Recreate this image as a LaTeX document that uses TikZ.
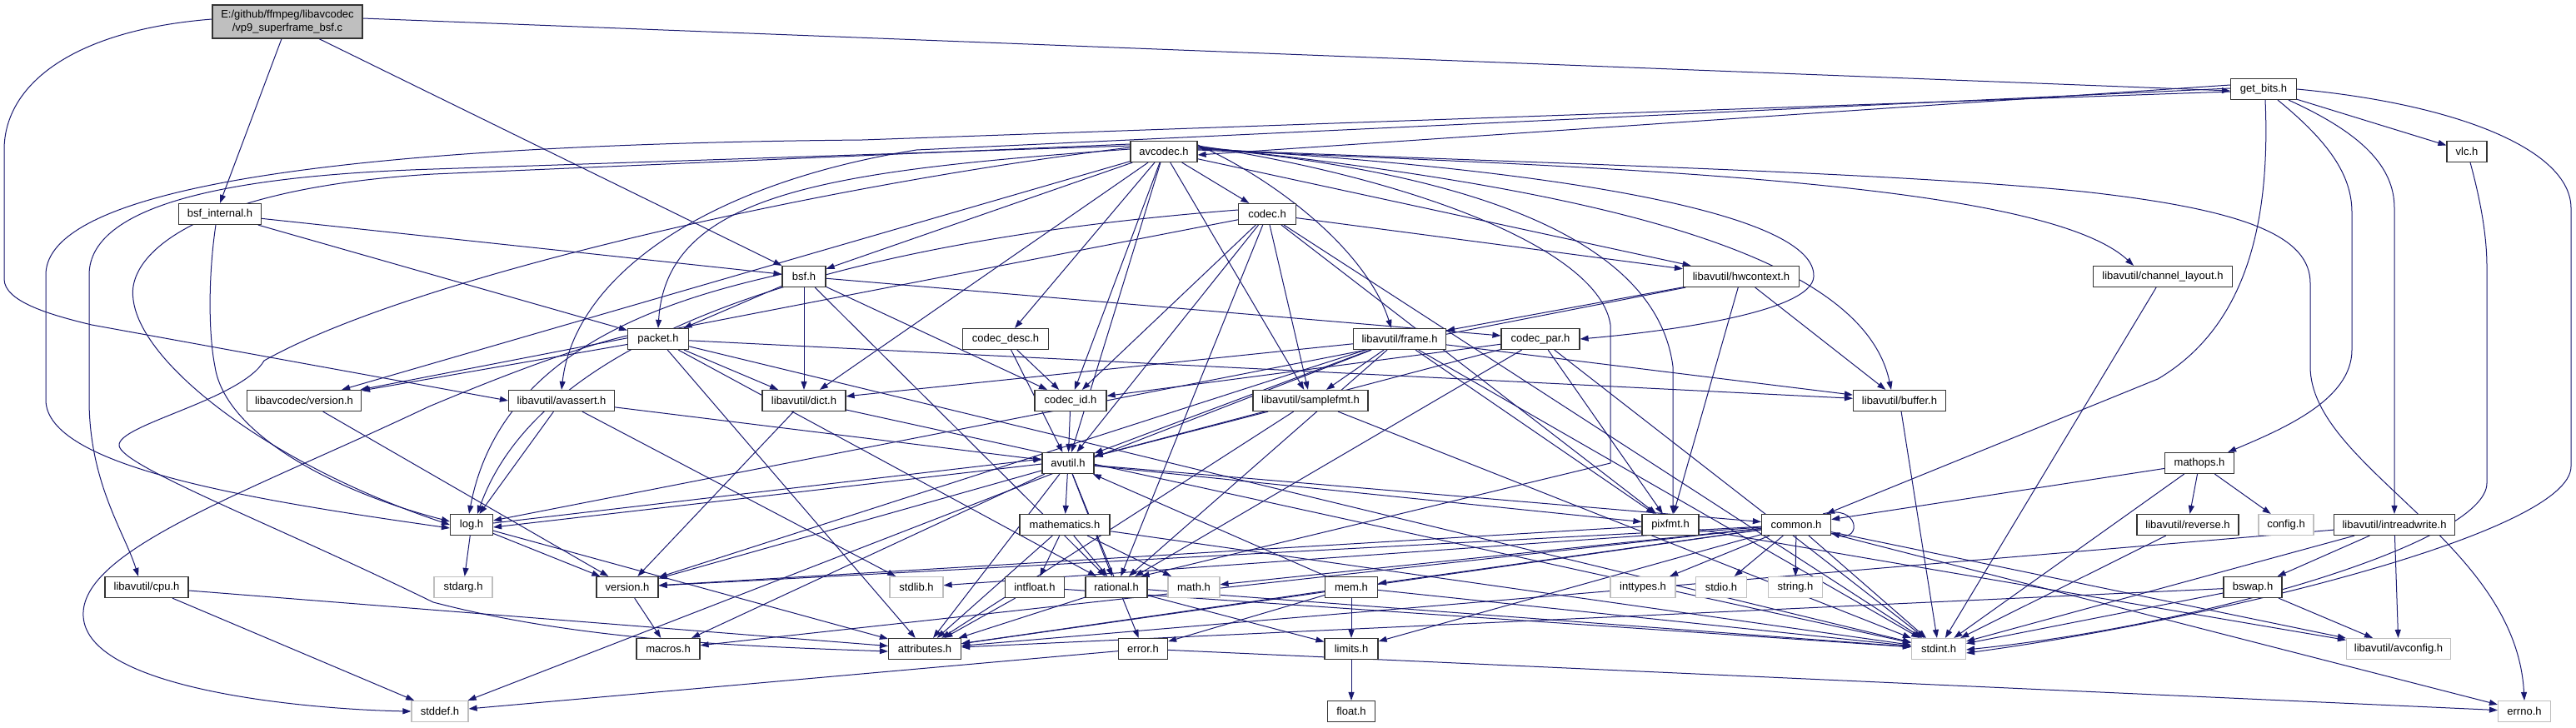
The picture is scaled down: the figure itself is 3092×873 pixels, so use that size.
\documentclass[tikz,border=0pt]{standalone}
\usepackage{fontspec}
\setmainfont{Liberation Sans}
\usetikzlibrary{arrows.meta}
\definecolor{edgec}{HTML}{191970}
\definecolor{rootfill}{HTML}{BFBFBF}
\definecolor{graybd}{HTML}{BFBFBF}
\pgfdeclarelayer{bglayer}
\pgfdeclarelayer{edgelayer}
\pgfsetlayers{bglayer,edgelayer,main}
\tikzset{
  nd/.style={draw=black!80, line width=1.2pt, fill=white, minimum height=25pt, inner sep=0pt, font=\fontsize{13}{15}\selectfont},
  gnd/.style={nd, draw=graybd},
  e/.style={draw=edgec, line width=1pt, -{Triangle[length=10pt,width=7pt]}},
}
\newcommand{\edg}[2]{\draw[e] (#1) -- (#2);}
\begin{document}
\begin{tikzpicture}[x=1pt,y=-1pt]
\begin{pgfonlayer}{bglayer}
\fill[white] (0,0) rectangle (3092,873);
\end{pgfonlayer}
\useasboundingbox (0,0) rectangle (3092,873);

% nodes
\node[nd, fill=rootfill, minimum width=180pt, minimum height=40pt, align=center, font=\fontsize{13}{16}\selectfont] (root) at (345,26) {E:/github/ffmpeg/libavcodec\\/vp9\_superframe\_bsf.c};
\node[nd, minimum width=99pt] (bsfint) at (264,257) {bsf\_internal.h};
\node[nd, minimum width=52pt] (bsf) at (965,332) {bsf.h};
\node[nd, minimum width=73pt] (packet) at (790,407) {packet.h};
\node[nd, minimum width=80pt] (avcodec) at (1397,182) {avcodec.h};
\node[nd, minimum width=69pt] (codec) at (1521,257) {codec.h};
\node[nd, minimum width=103pt] (codecdesc) at (1207,407) {codec\_desc.h};
\node[nd, minimum width=111pt] (frame) at (1680,407) {libavutil/frame.h};
\node[nd, minimum width=94pt] (codecpar) at (1849,407) {codec\_par.h};
\node[nd, minimum width=139pt] (hwctx) at (2090,332) {libavutil/hwcontext.h};
\node[nd, minimum width=167pt] (chlayout) at (2596,332) {libavutil/channel\_layout.h};
\node[nd, minimum width=79pt] (getbits) at (2717,107) {get\_bits.h};
\node[nd, minimum width=48pt] (vlc) at (2961,182) {vlc.h};
\node[nd, minimum width=137pt] (lcversion) at (365,481) {libavcodec/version.h};
\node[nd, minimum width=100pt] (cpu) at (176,705) {libavutil/cpu.h};
\node[gnd, minimum width=68pt] (stddef) at (528,854) {stddef.h};
\node[nd, minimum width=127pt] (avassert) at (674,481) {libavutil/avassert.h};
\node[nd, minimum width=100pt] (dict) at (965,481) {libavutil/dict.h};
\node[nd, minimum width=51pt] (log) at (566,630) {log.h};
\node[gnd, minimum width=70pt] (stdarg) at (556,705) {stdarg.h};
\node[nd, minimum width=74pt] (version) at (753,705) {version.h};
\node[nd, minimum width=76pt] (macros) at (802,779) {macros.h};
\node[nd, minimum width=86pt] (codecid) at (1285,481) {codec\_id.h};
\node[nd, minimum width=62pt] (avutil) at (1282,556) {avutil.h};
\node[nd, minimum width=108pt] (mathematics) at (1278,630) {mathematics.h};
\node[gnd, minimum width=64pt] (stdlib) at (1100,705) {stdlib.h};
\node[nd, minimum width=71pt] (intfloat) at (1242,705) {intfloat.h};
\node[nd, minimum width=74pt] (rational) at (1340,705) {rational.h};
\node[gnd, minimum width=62pt] (math) at (1433,705) {math.h};
\node[nd, minimum width=87pt] (attributes) at (1110,779) {attributes.h};
\node[nd, minimum width=59pt] (error) at (1372,779) {error.h};
\node[nd, minimum width=138pt] (samplefmt) at (1573,481) {libavutil/samplefmt.h};
\node[nd, minimum width=68pt] (pixfmt) at (2005,630) {pixfmt.h};
\node[nd, minimum width=63pt] (mem) at (1622,705) {mem.h};
\node[nd, minimum width=64pt] (limits) at (1622,779) {limits.h};
\node[nd, minimum width=57pt] (float) at (1622,854) {float.h};
\node[gnd, minimum width=78pt] (inttypes) at (1972,705) {inttypes.h};
\node[gnd, minimum width=61pt] (stdio) at (2066,705) {stdio.h};
\node[gnd, minimum width=65pt] (string) at (2155,705) {string.h};
\node[nd, minimum width=83pt] (common) at (2156,630) {common.h};
\node[nd, minimum width=111pt] (buffer) at (2280,481) {libavutil/buffer.h};
\node[gnd, minimum width=65pt] (stdint) at (2327,779) {stdint.h};
\node[nd, minimum width=145pt] (intrw) at (2874,630) {libavutil/intreadwrite.h};
\node[nd, minimum width=83pt] (mathops) at (2640,556) {mathops.h};
\node[nd, minimum width=122pt] (reverse) at (2626,630) {libavutil/reverse.h};
\node[gnd, minimum width=66pt] (config) at (2744,630) {config.h};
\node[nd, minimum width=70pt] (bswap) at (2704,705) {bswap.h};
\node[gnd, minimum width=125pt] (avconfig) at (2879,779) {libavutil/avconfig.h};
\node[gnd, minimum width=63pt] (errno) at (3030,854) {errno.h};

\begin{pgfonlayer}{edgelayer}
% root
\draw[e] ([yshift=4]root.east) -- ([yshift=-2]getbits.west);
\draw[e] ([xshift=-7]root.south) -- (bsfint.north);
\draw[e] ([xshift=38]root.south) -- (bsf.north west);
\draw[e] ([yshift=3]root.west) .. controls (90,36) and (5,100) .. (5,180) -- (5,335) .. controls (5,362) and (60,378) .. (110,390) -- (avassert.west);
% get_bits
\draw[e] ([yshift=5]getbits.west) -- ([yshift=-4]avcodec.east);
\edg{getbits}{vlc}
\draw[e] ([xshift=17]getbits.south) .. controls (2795,170) and (2823,210) .. (2823,255) -- (2823,420) .. controls (2823,480) and (2740,515) .. ([xshift=-8]mathops.north east);
\draw[e] ([xshift=30]getbits.south) .. controls (2835,160) and (2874,200) .. (2874,250) -- (intrw.north);
\draw[e] ([xshift=2]getbits.south) .. controls (2725,260) and (2700,390) .. (2590,455) -- ([xshift=-6]common.north east);
\draw[e] ([yshift=-3]getbits.west) -- (1035,168) .. controls (600,172) and (55,200) .. (55,330) -- (55,480) .. controls (55,560) and (300,600) .. ([yshift=-4]log.west);
\draw[e] ([yshift=1]getbits.west) -- (1100,180) .. controls (850,220) and (690,330) .. (avassert.north);
\draw[e] (getbits.east) .. controls (2950,125) and (3086,180) .. (3086,250) -- (3086,560) .. controls (3086,640) and (2650,745) .. ([yshift=-5]stdint.east);
\draw[e] ([xshift=4]vlc.south) .. controls (2980,250) and (2985,290) .. (2985,320) -- (2985,580) .. controls (2985,650) and (2650,750) .. ([yshift=-1]stdint.east);
% avcodec
\draw[e] ([yshift=3]avcodec.east) .. controls (1800,195) and (2250,205) .. (2500,230) .. controls (2700,252) and (2773,285) .. (2773,340) -- (2773,440) .. controls (2773,560) and (3020,650) .. (errno.north);
\draw[e] ([yshift=2]avcodec.east) .. controls (1900,200) and (2450,215) .. ([xshift=-35]chlayout.north);
\edg{avcodec}{samplefmt}
\edg{avcodec}{avutil}
\draw[e] ([yshift=6]avcodec.east) .. controls (1900,225) and (2235,300) .. ([xshift=-10]buffer.north);
\edg{avcodec}{dict}
\draw[e] ([yshift=8]avcodec.east) .. controls (1530,215) and (1640,300) .. ([xshift=-10]frame.north);
\edg{avcodec}{hwctx}
\draw[e] ([yshift=5]avcodec.east) .. controls (1800,210) and (1990,300) .. (2008,440) -- ([xshift=3]pixfmt.north);
\draw[e] ([yshift=7]avcodec.east) .. controls (1700,215) and (1920,300) .. (1933,390) -- (1933,556) -- ([xshift=-8]rational.north east);
\edg{avcodec}{bsf}
\edg{avcodec}{codec}
\edg{avcodec}{codecdesc}
\draw[e] ([yshift=4]avcodec.east) .. controls (1900,205) and (2180,260) .. (2177,332) .. controls (2175,375) and (2000,398) .. (codecpar.east);
\edg{avcodec}{codecid}
\draw[e] ([yshift=3]avcodec.west) .. controls (1000,205) and (800,230) .. (packet.north);
\edg{avcodec}{lcversion}
\draw[e] ([yshift=5]avcodec.west) .. controls (1000,220) and (500,330) .. (317,433) .. controls (290,480) and (140,510) .. (143,535) .. controls (146,560) and (330,630) .. (520,723) .. controls (700,770) and (900,776) .. ([yshift=-3]attributes.west);
\draw[e] ([yshift=7]avcodec.west) -- (520,203) .. controls (300,210) and (107,240) .. (107,330) -- (107,480) .. controls (107,580) and (150,640) .. ([xshift=-10]cpu.north);
\draw[e] ([yshift=9]avcodec.west) -- (520,209) .. controls (250,225) and (150,300) .. (160,360) .. controls (170,440) and (330,560) .. (log.west);
% bsf_internal
\edg{bsfint}{bsf}
\edg{bsfint}{packet}
\draw[e] ([xshift=-5]bsfint.south) .. controls (250,330) and (250,400) .. (258,440) .. controls (270,520) and (400,590) .. ([yshift=4]log.west);
% bsf
\edg{bsf}{dict}
\draw[e] ([yshift=3]bsf.west) .. controls (800,360) and (600,420) .. ([xshift=-3]log.north);
\edg{bsf}{rational}
\edg{bsf}{codecid}
\edg{bsf}{codecpar}
\edg{bsf}{packet}
% codec
\edg{codec}{stdint}
\edg{codec}{avutil}
\edg{codec}{hwctx}
\draw[e] ([yshift=5]codec.west) .. controls (1000,290) and (650,400) .. ([xshift=7]log.north);
\edg{codec}{pixfmt}
\edg{codec}{rational}
\edg{codec}{samplefmt}
\edg{codec}{codecid}
\edg{codec}{lcversion}
% hwcontext
\edg{hwctx}{buffer}
\edg{hwctx}{frame}
\edg{hwctx}{log}
\edg{hwctx}{pixfmt}
% channel_layout
\edg{chlayout}{stdint}
% codec_desc
\edg{codecdesc}{avutil}
\edg{codecdesc}{codecid}
% frame
\edg{frame}{stddef}
\edg{frame}{stdint}
\edg{frame}{avutil}
\edg{frame}{buffer}
\edg{frame}{dict}
\edg{frame}{rational}
\edg{frame}{samplefmt}
\edg{frame}{pixfmt}
\edg{frame}{version}
% codec_par
\edg{codecpar}{stdint}
\edg{codecpar}{avutil}
\edg{codecpar}{rational}
\edg{codecpar}{pixfmt}
\edg{codecpar}{codecid}
% packet
\draw[e] ([yshift=4]packet.west) .. controls (680,420) and (570,465) .. (515,488) .. controls (300,590) and (95,660) .. (100,740) .. controls (105,830) and (380,852) .. (stddef.west);
\edg{packet}{stdint}
\edg{packet}{attributes}
\edg{packet}{buffer}
\edg{packet}{dict}
\edg{packet}{rational}
\edg{packet}{lcversion}
% libavcodec/version
\edg{lcversion}{version}
% avassert
\edg{avassert}{stdlib}
\edg{avassert}{avutil}
\edg{avassert}{log}
% dict
\edg{dict}{stdint}
\edg{dict}{version}
% codec_id
\edg{codecid}{avutil}
% samplefmt
\edg{samplefmt}{stdint}
\edg{samplefmt}{avutil}
\edg{samplefmt}{attributes}
% buffer
\edg{buffer}{stdint}
% avutil
\edg{avutil}{common}
\edg{avutil}{error}
\edg{avutil}{rational}
\edg{avutil}{version}
\edg{avutil}{macros}
\edg{avutil}{mathematics}
\draw[e] ([yshift=-1]avutil.west) -- ([yshift=-3]log.east);
\edg{avutil}{pixfmt}
\edg{avutil}{attributes}
% mathops
\edg{mathops}{config}
\edg{mathops}{common}
\edg{mathops}{reverse}
\edg{mathops}{stdint}
% log
\edg{log}{stdarg}
\draw[e] ([yshift=2]log.east) -- ([yshift=5]avutil.west);
\edg{log}{attributes}
\edg{log}{version}
% pixfmt
\edg{pixfmt}{avconfig}
\edg{pixfmt}{version}
% common
\edg{common}{errno}
\edg{common}{inttypes}
\edg{common}{limits}
\edg{common}{math}
\edg{common}{stdint}
\edg{common}{stdio}
\edg{common}{stdlib}
\edg{common}{string}
\edg{common}{attributes}
\edg{common}{macros}
\edg{common}{version}
\edg{common}{avconfig}
\edg{common}{mem}
\draw[e] ([xshift=-10]common.north east) .. controls (2232,605) and (2235,650) .. ([yshift=3]common.south east);
% reverse
\edg{reverse}{stdint}
% intreadwrite
\edg{intrw}{stdint}
\edg{intrw}{avconfig}
\edg{intrw}{attributes}
\edg{intrw}{bswap}
% mathematics
\edg{mathematics}{stdint}
\edg{mathematics}{math}
\edg{mathematics}{attributes}
\edg{mathematics}{rational}
\edg{mathematics}{intfloat}
% cpu
\edg{cpu}{stddef}
\edg{cpu}{attributes}
% version
\edg{version}{macros}
% intfloat
\edg{intfloat}{stdint}
\edg{intfloat}{attributes}
% rational
\edg{rational}{stdint}
\edg{rational}{limits}
\edg{rational}{attributes}
% mem
\edg{mem}{limits}
\edg{mem}{stdint}
\edg{mem}{attributes}
\edg{mem}{error}
\edg{mem}{avutil}
% bswap
\edg{bswap}{stdint}
\edg{bswap}{avconfig}
\edg{bswap}{attributes}
% error
\edg{error}{errno}
\edg{error}{stddef}
% limits
\edg{limits}{float}
\end{pgfonlayer}
\end{tikzpicture}
\end{document}
